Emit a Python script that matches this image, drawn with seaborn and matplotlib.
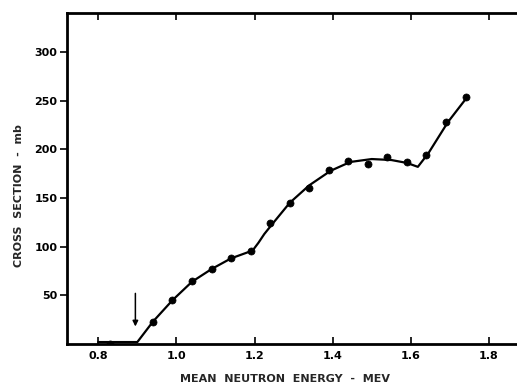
import matplotlib
matplotlib.use("Agg")
import matplotlib.pyplot as plt
import seaborn as sns
import pandas as pd

# measured data points (MeV, mb)
energy = [0.83, 0.94, 0.99, 1.04, 1.09, 1.14, 1.19, 1.24, 1.29, 1.34, 1.39,
          1.44, 1.49, 1.54, 1.59, 1.64, 1.69, 1.74]
cross = [0, 23, 45, 65, 77, 88, 96, 124, 145, 160, 179,
         188, 185, 192, 187, 194, 228, 254]

# hand-drawn fitted curve
curve_e = [0.80, 0.90, 0.94, 0.99, 1.04, 1.09, 1.14, 1.195, 1.21, 1.225, 1.245,
           1.29, 1.34, 1.395, 1.445, 1.50, 1.55, 1.59, 1.618, 1.645, 1.695, 1.745]
curve_s = [2, 2, 23, 45, 64, 77, 88, 96, 104, 113, 123,
           145, 163, 178, 187, 190, 189, 186, 182, 196, 228, 254]

threshold_e = 0.895
arrow_from, arrow_to = 52, 18

x_ticks = [0.8, 1.0, 1.2, 1.4, 1.6, 1.8]
x_labels = ["0.8", "1.0", "1.2", "1.4", "1.6", "1.8"]
y_ticks = [50, 100, 150, 200, 250, 300]

sns.set_style("ticks")
plt.rcParams["font.family"] = ["DejaVu Sans"]

fig = plt.figure(figsize=(5.17, 3.83), dpi=100)
ax = fig.add_axes([0.1296, 0.1018, 0.8804, 0.8642])

pts = pd.DataFrame({"energy": energy, "cross": cross})
crv = pd.DataFrame({"energy": curve_e, "cross": curve_s})

sns.lineplot(data=crv, x="energy", y="cross", sort=False, color="black",
             linewidth=1.6, ax=ax, zorder=2)
sns.scatterplot(data=pts, x="energy", y="cross", color="black", s=26,
                edgecolor="black", linewidth=0.5, ax=ax, zorder=3)

ax.annotate("", xy=(threshold_e, arrow_to), xytext=(threshold_e, arrow_from),
            arrowprops=dict(arrowstyle="-|>", color="black", lw=1.1,
                            mutation_scale=8, shrinkA=0, shrinkB=0))

ax.set_xlim(0.72, 1.885)
ax.set_ylim(0, 340)
ax.set_xticks(x_ticks)
ax.set_xticklabels(x_labels)
ax.set_yticks(y_ticks)

ax.tick_params(axis="x", direction="in", length=5, width=1.2, top=True,
               labelsize=8, pad=5, colors="black")
ax.tick_params(axis="y", direction="out", length=5, width=1.2,
               labelsize=8, pad=2, colors="black")
for lab in ax.get_xticklabels() + ax.get_yticklabels():
    lab.set_fontweight("bold")

for side in ["left", "bottom", "top"]:
    ax.spines[side].set_linewidth(2.0)
    ax.spines[side].set_color("black")
ax.spines["right"].set_visible(False)

ax.set_xlabel("MEAN  NEUTRON  ENERGY  -  MEV", fontsize=8, fontweight="bold")
ax.xaxis.set_label_coords(0.479, -0.09)
ax.set_ylabel("CROSS  SECTION  -  mb", fontsize=8, fontweight="bold")
ax.yaxis.set_label_coords(-0.095, 0.45)

fig.savefig("out.png", dpi=100, facecolor="white")
